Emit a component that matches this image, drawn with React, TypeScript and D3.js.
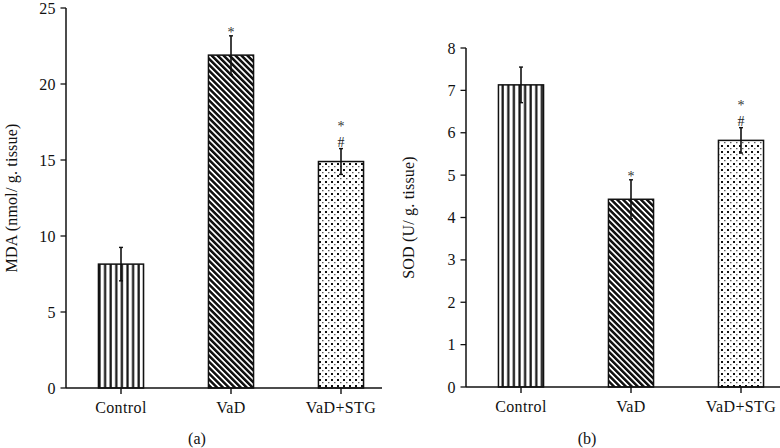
import React from "react";
import * as d3 from "d3";

const categories = ["Control", "VaD", "VaD+STG"];
const mdaMean = [8.15, 21.9, 14.9];
const mdaErr = [1.1, 1.27, 0.85];
const mdaStar = [false, true, true];
const mdaHash = [false, false, true];
const mdaTicks = [0, 5, 10, 15, 20, 25];

const sodMean = [7.13, 4.43, 5.82];
const sodErr = [0.42, 0.46, 0.3];
const sodStar = [false, true, true];
const sodHash = [false, false, true];
const sodTicks = [0, 1, 2, 3, 4, 5, 6, 7, 8];

const patterns = ["pVert", "pDiag", "pDots"];
const FONT = "'Liberation Serif', 'Times New Roman', serif";
const FS = 16;
const LS = 0.4;

type PanelProps = {
  x0: number;
  x1: number;
  yTop: number;
  yBottom: number;
  yMax: number;
  ticks: number[];
  means: number[];
  errs: number[];
  stars: boolean[];
  hashes: boolean[];
  yLabel: string;
  yLabelX: number;
  panelLabel: string;
  panelLabelX: number;
};

function Panel(p: PanelProps) {
  const x = d3
    .scaleBand<string>()
    .domain(categories)
    .range([p.x0, p.x0 + 330])
    .paddingInner(0.59)
    .paddingOuter(0.295);
  const y = d3.scaleLinear().domain([0, p.yMax]).range([p.yBottom, p.yTop]);
  const bw = x.bandwidth();
  const midY = (y(0) + y(p.yMax)) / 2;
  return (
    <g>
      {categories.map((c, i) => {
        const bx = x(c) as number;
        const cx = bx + bw / 2;
        const top = y(p.means[i]);
        const eTop = y(p.means[i] + p.errs[i]);
        const eBot = y(p.means[i] - p.errs[i]);
        return (
          <g key={c}>
            <rect
              x={bx}
              y={top}
              width={bw}
              height={y(0) - top}
              fill={`url(#${patterns[i]})`}
              stroke="#111"
              strokeWidth={1.5}
            />
            <line x1={cx} x2={cx} y1={eTop} y2={eBot} stroke="#111" strokeWidth={1.6} />
            <line x1={cx - 2} x2={cx + 2} y1={eTop} y2={eTop} stroke="#111" strokeWidth={1.4} />
            <line x1={cx - 2} x2={cx + 2} y1={eBot} y2={eBot} stroke="#111" strokeWidth={1.4} />
            {p.hashes[i] && (
              <text x={cx} y={eTop - 2} textAnchor="middle" fontFamily={FONT} fontSize={14} fill="#222">
                #
              </text>
            )}
            {p.stars[i] && (
              <text
                x={cx}
                y={p.hashes[i] ? eTop - 18 : eTop + 1}
                textAnchor="middle"
                fontFamily={FONT}
                fontSize={14}
                fill="#333"
              >
                *
              </text>
            )}
            <line x1={cx} x2={cx} y1={y(0)} y2={y(0) + 6} stroke="#111" strokeWidth={1.4} />
            <text
              x={cx}
              y={y(0) + 25}
              textAnchor="middle"
              fontFamily={FONT}
              fontSize={FS}
              letterSpacing={LS}
              fill="#111"
            >
              {c}
            </text>
          </g>
        );
      })}
      <line x1={p.x0} x2={p.x0} y1={y(p.yMax)} y2={y(0)} stroke="#111" strokeWidth={1.5} />
      <line x1={p.x0} x2={p.x1} y1={y(0)} y2={y(0)} stroke="#111" strokeWidth={1.5} />
      {p.ticks.map((t) => (
        <g key={t}>
          <line x1={p.x0 - 5.5} x2={p.x0} y1={y(t)} y2={y(t)} stroke="#111" strokeWidth={1.3} />
          <text
            x={p.x0 - 10}
            y={y(t) + 5.5}
            textAnchor="end"
            fontFamily={FONT}
            fontSize={FS}
            letterSpacing={LS}
            fill="#111"
          >
            {t}
          </text>
        </g>
      ))}
      <text
        transform={`translate(${p.yLabelX},${midY}) rotate(-90)`}
        textAnchor="middle"
        dominantBaseline="central"
        fontFamily={FONT}
        fontSize={FS}
        letterSpacing={0.2}
        fill="#111"
      >
        {p.yLabel}
      </text>
      <text x={p.panelLabelX} y={444} textAnchor="middle" fontFamily={FONT} fontSize={FS} fill="#111">
        {p.panelLabel}
      </text>
    </g>
  );
}

export default function App() {
  return (
    <svg
      width={780}
      height={448}
      style={{ position: "absolute", left: 0, top: 0, background: "#fff" }}
    >
      <defs>
        <pattern id="pVert" width={5.6} height={10} patternUnits="userSpaceOnUse">
          <rect width={5.6} height={10} fill="#fff" />
          <rect x={3.2} width={2.2} height={10} fill="#111" />
        </pattern>
        <pattern
          id="pDiag"
          width={4.2}
          height={10}
          patternUnits="userSpaceOnUse"
          patternTransform="rotate(-45)"
        >
          <rect width={4.2} height={10} fill="#fff" />
          <rect x={0} width={2.5} height={10} fill="#111" />
        </pattern>
        <pattern id="pDots" width={6} height={6} patternUnits="userSpaceOnUse">
          <rect width={6} height={6} fill="#fff" />
          <rect x={1} y={1} width={2} height={2} fill="#111" />
          <rect x={4} y={4.2} width={1.5} height={1} fill="#333" />
        </pattern>
      </defs>
      <Panel
        x0={66}
        x1={382}
        yTop={8}
        yBottom={388}
        yMax={25}
        ticks={mdaTicks}
        means={mdaMean}
        errs={mdaErr}
        stars={mdaStar}
        hashes={mdaHash}
        yLabel="MDA (nmol/ g. tissue)"
        yLabelX={11}
        panelLabel="(a)"
        panelLabelX={197}
      />
      <Panel
        x0={466}
        x1={780}
        yTop={48}
        yBottom={387}
        yMax={8}
        ticks={sodTicks}
        means={sodMean}
        errs={sodErr}
        stars={sodStar}
        hashes={sodHash}
        yLabel="SOD (U/ g. tissue)"
        yLabelX={408}
        panelLabel="(b)"
        panelLabelX={587}
      />
    </svg>
  );
}
